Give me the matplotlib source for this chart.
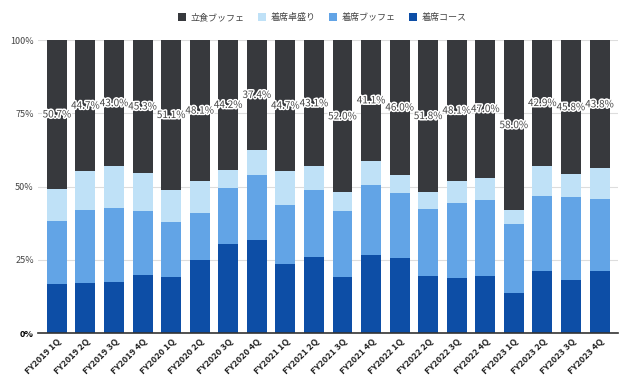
import matplotlib
matplotlib.use("Agg")
import matplotlib.pyplot as plt
import matplotlib.patheffects as pe
import numpy as np

plt.rcParams['font.family'] = ['Noto Sans CJK JP', 'DejaVu Sans']

quarters = ['FY2019 1Q', 'FY2019 2Q', 'FY2019 3Q', 'FY2019 4Q',
            'FY2020 1Q', 'FY2020 2Q', 'FY2020 3Q', 'FY2020 4Q',
            'FY2021 1Q', 'FY2021 2Q', 'FY2021 3Q', 'FY2021 4Q',
            'FY2022 1Q', 'FY2022 2Q', 'FY2022 3Q', 'FY2022 4Q',
            'FY2023 1Q', 'FY2023 2Q', 'FY2023 3Q', 'FY2023 4Q']

# 着席コース (bottom)
course = [16.6, 17.1, 17.6, 19.9, 19.2, 24.8, 30.5, 31.9, 23.7, 26.1,
          19.2, 26.7, 25.7, 19.6, 18.9, 19.6, 13.7, 21.1, 18.1, 21.1]
# 着席ブッフェ
seated_buffet = [21.6, 25.0, 25.2, 21.8, 18.8, 16.3, 18.9, 21.9, 20.2, 22.9,
                 22.5, 23.8, 22.0, 22.6, 25.4, 25.7, 23.4, 25.7, 28.2, 24.7]
# 着席卓盛り
platter = [11.1, 13.2, 14.2, 13.0, 10.9, 10.8, 6.4, 8.8, 11.4, 7.9,
           6.3, 8.4, 6.3, 6.0, 7.6, 7.7, 4.9, 10.3, 7.9, 10.4]
# 立食ブッフェ (top)
standing = [50.7, 44.7, 43.0, 45.3, 51.1, 48.1, 44.2, 37.4, 44.7, 43.1,
            52.0, 41.1, 46.0, 51.8, 48.1, 47.0, 58.0, 42.9, 45.8, 43.8]

series = [('着席コース', course, '#0d4ea6'),
          ('着席ブッフェ', seated_buffet, '#62a4e6'),
          ('着席卓盛り', platter, '#bfe1f7'),
          ('立食ブッフェ', standing, '#37393d')]

fig = plt.figure(figsize=(6.32, 3.86), dpi=100)
ax = fig.add_axes([0.06, 0.137, 0.918, 0.759])

x = np.arange(len(quarters))
bottom = np.zeros(len(quarters))
handles = {}
for name, vals, col in series:
    vals = np.array(vals)
    handles[name] = ax.bar(x, vals, 0.7, bottom=bottom, color=col, label=name, zorder=3)
    bottom = bottom + vals

# labels on the top segment
top_base = bottom - np.array(standing)
for xi, b, v in zip(x, top_base, standing):
    ax.text(xi, b + v / 2, f'{v:.1f}%', ha='center', va='center', fontsize=7.2,
            color='#444444', zorder=5,
            path_effects=[pe.withStroke(linewidth=2.2, foreground='white')])

ax.set_ylim(0, 100)
ax.set_xlim(-0.665, 19.65)
ax.set_yticks([0, 25, 50, 75, 100])
ax.set_yticklabels(['0%', '25%', '50%', '75%', '100%'], fontsize=6.5, color='#444444')
ax.get_yticklabels()[0].set_fontweight('bold')
ax.get_yticklabels()[0].set_color('black')
ax.yaxis.grid(True, color='#dddddd', linewidth=0.8, zorder=0)
ax.set_xticks(x)
ax.set_xticklabels(quarters, rotation=45, ha='right', rotation_mode='anchor',
                   fontsize=6.5, fontweight='bold', color='#222222')
ax.tick_params(axis='both', length=0, pad=3)
for s in ['top', 'right', 'left']:
    ax.spines[s].set_visible(False)
ax.spines['bottom'].set_color('#333333')
ax.spines['bottom'].set_linewidth(1.2)
ax.spines['bottom'].set_zorder(4)

order = ['立食ブッフェ', '着席卓盛り', '着席ブッフェ', '着席コース']
fig.legend([handles[n] for n in order], order, loc='center', bbox_to_anchor=(0.51, 0.955),
           ncol=4, frameon=False, fontsize=6.5, handlelength=0.9, handleheight=0.9,
           columnspacing=1.5, handletextpad=0.5, labelcolor='#444444')

fig.savefig('out.png', dpi=100)
